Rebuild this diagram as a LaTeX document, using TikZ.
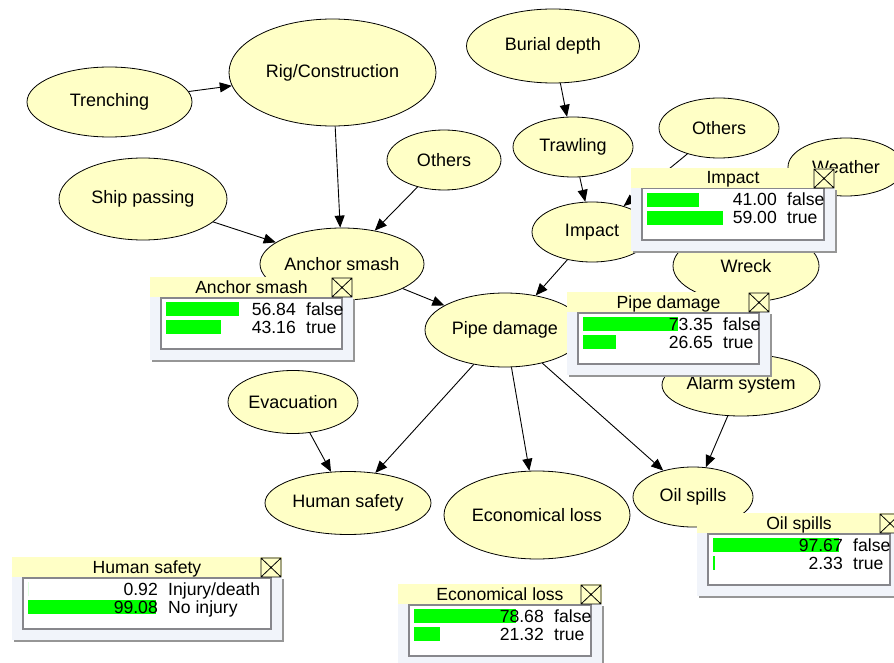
\documentclass[tikz,border=0pt]{standalone}
\usepackage{fontspec}
\setmainfont{Liberation Sans}
\usetikzlibrary{arrows.meta}
\usetikzlibrary{shapes.geometric}

\definecolor{nodeYellow}{RGB}{255,255,198}
\definecolor{barGreen}{RGB}{0,255,0}
\definecolor{frameGray}{RGB}{241,244,250}
\definecolor{shadowGray}{RGB}{150,150,150}
\definecolor{innerGray}{RGB}{135,135,140}

\newcommand{\Monitor}[9]{%
\begin{scope}[shift={(#2,#3)}]
\fill[shadowGray] (2,22) rectangle (#4+2,85);
\fill[frameGray] (0,20) rectangle (#4,83);
\fill[nodeYellow] (0,0) rectangle (#4,20);
\draw[innerGray, fill=white, line width=1.5pt] (11,20.75) rectangle (#4-11,72);
\fill[barGreen] (16,25) rectangle ++({max(0,1.31*#6-1.5)},14);
\fill[barGreen] (16,43) rectangle ++({max(0,1.31*#8-1.5)},14);
\draw[line width=0.8pt] (#4-21,1) rectangle (#4-1,20) (#4-21,1) -- (#4-1,20) (#4-21,20) -- (#4-1,1);
\node[monStyle, anchor=base] (#1title) at (#4/2,16) {#5};
\node[monStyle, anchor=base east] (#1valA) at (146,38) {#6};
\node[monStyle, anchor=base west] (#1labA) at (156,38) {#7};
\node[monStyle, anchor=base east] (#1valB) at (146,56) {#8};
\node[monStyle, anchor=base west] (#1labB) at (156,56) {#9};
\end{scope}}

\begin{document}
\begin{tikzpicture}[x = 1pt, y = -1pt, font = \fontsize{18}{20}\selectfont]
\tikzstyle{nodeStyle} = [shape = ellipse, draw, fill = nodeYellow, inner sep = 0pt, line width = 0.8pt]
\tikzstyle{edgeStyle} = [-{Triangle[length = 12pt, width = 10pt]}, line width = 0.9pt]
\tikzstyle{monStyle} = [inner sep = 0pt, font = \fontsize{17.6}{19}\selectfont]
\useasboundingbox (0,0) rectangle (894,663);
\clip (0,0) rectangle (894,663);
\fill[white] (0,0) rectangle (894,663);
\node[nodeStyle, minimum width = 165, minimum height = 70] (trench) at (109.5,102) {Trenching};
\node[nodeStyle, minimum width = 207, minimum height = 107] (rig) at (332.5,72.5) {Rig/Construction};
\node[nodeStyle, minimum width = 168, minimum height = 82] (ship) at (143,199) {Ship passing};
\node[nodeStyle, minimum width = 114, minimum height = 60] (othersA) at (444,160) {Others};
\node[nodeStyle, minimum width = 164, minimum height = 72] (anchor) at (342,264) {Anchor smash};
\node[nodeStyle, minimum width = 173, minimum height = 74] (burial) at (553,46) {Burial depth};
\node[nodeStyle, minimum width = 120, minimum height = 60] (trawl) at (573,147) {Trawling};
\node[nodeStyle, minimum width = 120, minimum height = 60] (othersB) at (719,128) {Others};
\node[nodeStyle, minimum width = 116, minimum height = 58] (weather) at (846,167) {Weather};
\node[nodeStyle, minimum width = 120, minimum height = 60] (impact) at (592,232) {Impact};
\node[nodeStyle, minimum width = 146, minimum height = 72] (wreck) at (746,266) {Wreck};
\node[nodeStyle, minimum width = 160, minimum height = 74] (pipe) at (505,330) {Pipe damage};
\node[nodeStyle, minimum width = 158, minimum height = 62] (alarm) at (741,385) {Alarm system};
\node[nodeStyle, minimum width = 130, minimum height = 63] (evac) at (293,402) {Evacuation};
\node[nodeStyle, minimum width = 166, minimum height = 63] (human) at (348,503) {Human safety};
\node[nodeStyle, minimum width = 186, minimum height = 88] (econ) at (537,515) {Economical loss};
\node[nodeStyle, minimum width = 120, minimum height = 60] (oil) at (693,497) {Oil spills};
\draw[edgeStyle] (trench) -- (rig);
\draw[edgeStyle] (rig) -- (anchor);
\draw[edgeStyle] (ship) -- (anchor);
\draw[edgeStyle] (othersA) -- (anchor);
\draw[edgeStyle] (anchor) -- (pipe);
\draw[edgeStyle] (burial) -- (trawl);
\draw[edgeStyle] (trawl) -- (impact);
\draw[edgeStyle] (othersB) -- (impact);
\draw[edgeStyle] (wreck) -- (impact);
\draw[edgeStyle] (impact) -- (pipe);
\draw[edgeStyle] (pipe) -- (human);
\draw[edgeStyle] (pipe) -- (econ);
\draw[edgeStyle] (pipe) -- (oil);
\draw[edgeStyle] (evac) -- (human);
\draw[edgeStyle] (alarm) -- (oil);
\Monitor{anchorMon}{150}{277}{203}{Anchor smash}{56.84}{false}{43.16}{true}
\Monitor{impactMon}{631}{168}{204}{Impact}{41.00}{false}{59.00}{true}
\Monitor{pipeMon}{567}{292}{203}{Pipe damage}{73.35}{false}{26.65}{true}
\Monitor{humanMon}{12}{557}{270}{Human safety}{0.92}{Injury/death}{99.08}{No injury}
\Monitor{econMon}{398}{584}{204}{Economical loss}{78.68}{false}{21.32}{true}
\Monitor{oilMon}{697}{513}{204}{Oil spills}{97.67}{false}{2.33}{true}
\end{tikzpicture}
\end{document}
